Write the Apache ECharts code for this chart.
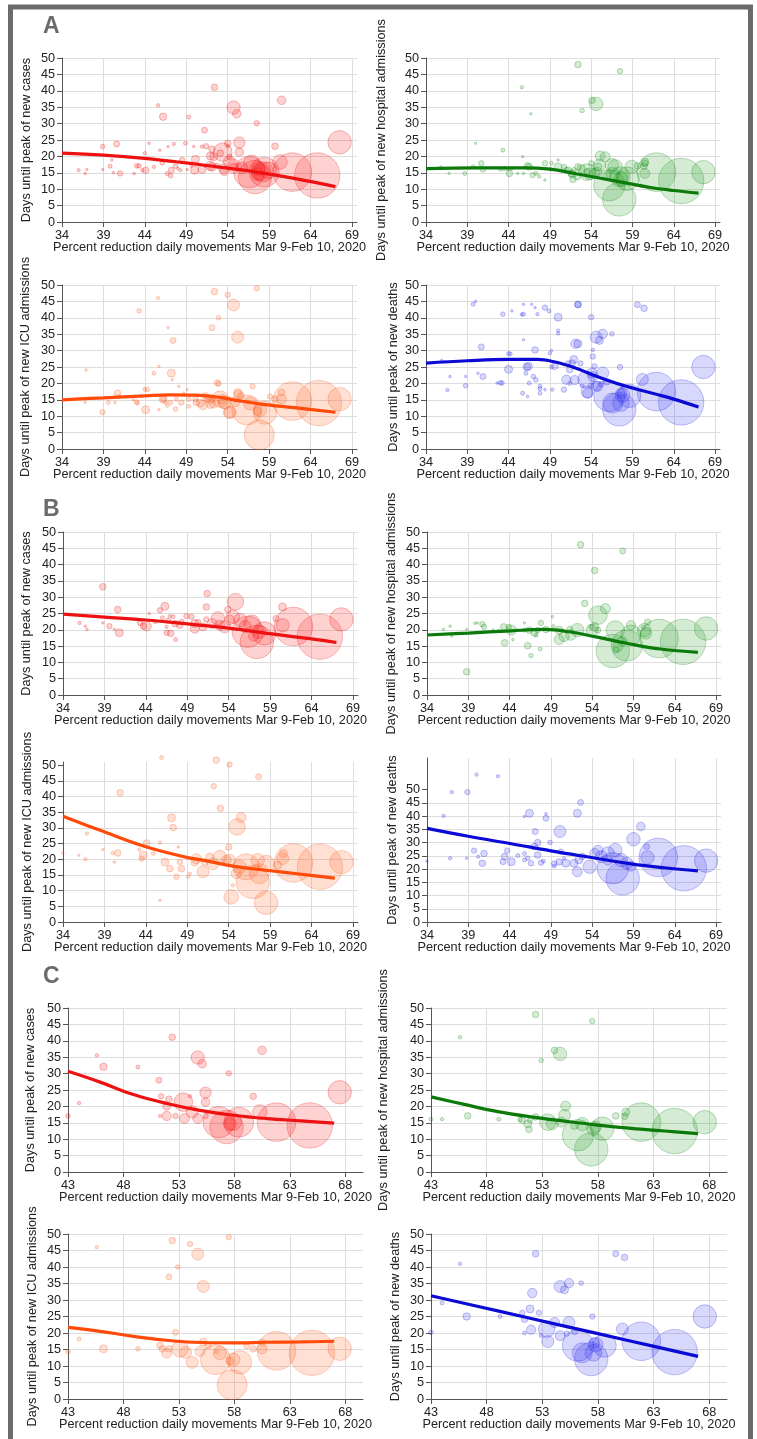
<!DOCTYPE html>
<html>
<head>
<meta charset="utf-8">
<script src="https://cdn.jsdelivr.net/npm/echarts@6/dist/echarts.min.js"></script>
<style>
html, body { margin: 0; padding: 0; background: #fff; }
#chart { width: 757px; height: 1439px; }
</style>
</head>
<body>
<div id="chart"></div>
<script>
// Days until peak vs. percent reduction of daily movements, 3 sections x 4 outcomes.
// Points are [movement reduction %, days until peak, population (thousands)].

var X_NAME = 'Percent reduction daily movements Mar 9-Feb 10, 2020';
var X_TICKS_AB = [34, 39, 44, 49, 54, 59, 64, 69];
var X_TICKS_C = [43, 48, 53, 58, 63, 68];
var Y_TICKS = [0, 5, 10, 15, 20, 25, 30, 35, 40, 45, 50];

// --- regions shown in section C (also part of section A) ---
var CASES_C = [[64.8,14.2,8245],[61.8,15.2,5960],[67.5,24.3,2190],[57.3,13.7,4462],[56.6,15.2,3944],[58.4,15.2,3600],
  [57.9,15.2,1102],[57.6,14.6,640],[60.3,18.3,853],[60.5,37.1,296],[59.7,23.1,174],[57.5,30.1,117],[54.7,34.9,718],
  [55.1,33,296],[55.4,24.2,520],[55.4,21.3,296],[55.4,17.1,117],[54.7,16.3,400],[54.2,18.3,576],[53.5,16.3,400],
  [53.4,21.3,1384],[54,23.1,46],[52.4,41.1,174],[52.1,22.2,174],[51.9,20.1,256],[51.9,17.1,353],[51.4,23.1,117],
  [51.2,28,144],[51.3,17.1,46],[52.7,17.1,117],[49.3,32,64],[46.2,32.1,219],[45.6,35.6,46],[44,21,46],[43,17.1,85]];
var HOSP_C = [[64.9,12.5,8245],[61.9,15.2,5960],[67.6,15.2,2190],[57.4,6.9,4462],[56.2,11.2,3944],[58.4,13.2,2190],
  [57.6,13.2,718],[57.8,13.8,520],[56.6,14.6,718],[55.1,20.1,400],[55,17.3,576],[54.7,15.2,400],[54.6,36,718],
  [54.1,37.1,174],[52.9,34,85],[52.4,48,174],[57.5,46,117],[45.6,41.1,46],[53.5,15.2,1102],[53.9,14.7,576],
  [51.8,13,174],[51.7,14.7,256],[51.2,15.8,174],[51,16,85],[51.9,15.8,117],[52.4,16.8,174],[60.4,17,174],
  [59.6,17.1,174],[60.5,18.3,256],[49.1,16.1,64],[46.3,17.1,174],[44,16.1,46],[43,16.1,64],[55.9,14.2,256]];
var ICU_C = [[65,14,8245],[61.8,14.6,5960],[67.5,15.2,2190],[57.8,4.3,3600],[56.3,11.9,3600],[58.5,11.1,2190],
  [57.9,11.9,718],[56.7,13.9,718],[57.6,11.5,256],[54.9,14.4,400],[54.2,11.1,576],[53.6,14.1,576],[53.1,15.2,1102],
  [51.9,13.9,400],[51.3,16.2,174],[51.5,15.2,174],[52.1,15.2,174],[55.2,34.1,576],[54.7,43.9,576],[54,47,117],
  [52.4,48,174],[52.9,40,85],[52.1,37,144],[52.7,20.2,144],[57.5,49,117],[45.6,46,46],[46.2,15.2,256],[49.3,15.2,85],
  [44,18.2,64],[43,14.3,85],[55.2,17.2,256],[55.6,16.2,174],[56.4,14.3,64],[59.7,15.2,174],[60.5,15.2,400],
  [60.5,17.2,174],[59.1,16,117]];
var DEATHS_C = [[64.9,14.2,8245],[61.9,17.5,5960],[67.6,25,2190],[57.4,12.1,4462],[56.2,16.2,3944],[58.6,16.2,2190],
  [57.8,16.5,853],[57.7,17,400],[57.6,14,1102],[56.6,14,1600],[55.4,23.2,576],[55.4,35.1,353],[54.6,34.1,576],
  [55,33.1,256],[56.5,35.1,85],[57.5,25,117],[52.4,44,174],[59.6,44,144],[60.4,42.9,174],[52.1,32.1,353],
  [51.9,27.3,256],[52.7,26.1,117],[51.2,26.1,117],[51.4,24.2,174],[52,21,353],[51.4,20,64],[52.9,19.2,64],
  [53.4,21.2,1102],[53.5,17.4,576],[54.1,23.2,400],[54.6,19.2,400],[55.2,19.8,117],[60.2,21.2,576],[44,29.1,64],
  [45.6,41,46],[46.2,25,219],[49.2,25,64],[43,20.2,85],[55.9,20.5,174]];

// --- remaining regions of section A ---
var CASES_A_EXTRA = [[36,15.8,46],[36.8,14.8,27],[37,16,16],[38.9,23,85],[38.9,16,8],[39.8,17,64],[40,18.9,16],
  [40.2,15,27],[40.6,23.8,144],[41,14.8,117],[42.7,14.8,27],[43.3,17.1,85],[43.7,15.8,46],[44.1,15.8,174],[44.5,24,8],
  [45.1,16.8,46],[45.8,21.9,16],[46.1,18,85],[46.7,14.8,64],[46.8,23,16],[47.1,14.1,85],[47.2,15.8,144],[47.5,23.8,46],
  [47.7,17,85],[48,16.3,27],[48.3,15.8,46],[48.5,18.9,117],[48.9,24,64],[49.1,16,16],[49.6,17,27],[50,15.8,256],
  [50.1,19.1,256],[49.9,23,27],[50.9,23,46],[50.9,16,256],[52.1,16.8,296],[52.3,19.9,256],[53.1,21,174],
  [53.6,15.6,353],[54,24,174],[54.2,19.9,117],[54.7,17.7,400],[55.7,16.5,576],[56.9,17.9,1102],[58.3,15.3,1600],
  [58.9,15.8,1102],[57.7,16.3,718]];
var HOSP_A_EXTRA = [[35.8,16.8,27],[36.8,14.8,27],[38.7,14.8,64],[39.7,16.8,64],[40,24,16],[40.7,17.9,117],
  [40.9,16,117],[43.3,21.9,64],[43.5,16.3,85],[44.1,14.8,174],[44.4,16.3,46],[45.1,14.8,16],[45.7,19.9,8],
  [45.8,14.8,27],[46.5,16.8,174],[46.7,33,16],[46.9,14.3,117],[47.3,14.8,64],[47.7,13.9,46],[48.4,17.9,117],
  [48.4,12.8,8],[49.2,17.9,64],[50,18.9,27],[50,16.8,256],[50.7,16.8,117],[51.6,14.8,174],[52.3,13.8,174],
  [52.8,16.3,256],[53.5,15.3,174],[54,17.9,117],[54.4,14.8,400],[54.8,16.8,256],[55.7,19.9,400],[56.5,17.3,718],
  [56.9,16.8,853],[57.5,13.8,1600],[60.5,14.8,400],[60.5,17.9,174],[58.9,16.8,718]];
var ICU_A_EXTRA = [[35.8,15.2,16],[36.8,14.2,27],[36.9,24.1,27],[38.9,11.2,117],[39.6,14.2,64],[40.4,14.2,27],
  [40.7,17,174],[40.9,16,64],[42.6,15,16],[43.1,14,64],[43.3,42.1,85],[43.6,16,27],[44.1,12,256],[44.3,18.1,85],
  [45.1,23.1,64],[45.7,25.2,16],[45.7,12,16],[46.2,15.2,117],[46.5,14.2,64],[46.7,13.2,46],[46.8,37,16],
  [47.2,23.1,256],[47.3,21.1,16],[47.4,33.1,144],[47.1,14.2,85],[47.7,12.2,85],[47.8,15.2,64],[48.1,19.1,16],
  [48.4,14.2,117],[48.7,17,27],[49.1,18.1,16],[49.3,13,64],[50.1,15.2,117],[50.2,14.2,174],[50.7,14,256],
  [51,13.4,353],[51.9,15.2,296],[52.3,14,400],[52.9,19.9,117],[53.3,15.2,353],[53.7,14.2,718],[54.3,11.2,576],
  [55.3,16.5,353],[57,19.1,117]];
var DEATHS_A_EXTRA = [[35.9,27,27],[36.6,18,46],[36.9,22.1,27],[38.8,22.1,16],[38.8,19.3,85],[39.7,44.1,64],
  [40,45,27],[40.3,23.1,27],[40.7,31.1,144],[40.9,22.1,144],[42.6,20.1,27],[43.2,20.1,85],[43.3,41.1,85],
  [44,24.3,256],[44.2,29,64],[44.4,42.1,8],[45.7,17,64],[45.8,33.3,16],[45.8,41.1,64],[45.8,44.1,16],[46.1,23.1,64],
  [46.3,16,27],[46.4,25.2,256],[46.8,44.1,16],[47.2,43.1,16],[47.2,30.2,174],[47,22.1,85],[47.3,21.1,85],
  [47.5,41.1,46],[46.5,20.1,64],[47.8,19.1,64],[47.8,18.4,64],[47.8,17,64],[48.4,18.1,27],[48.4,43.1,117],
  [48.9,42.1,64],[49,29.2,46],[49.2,30,16],[49.3,18.1,46],[49.6,25.2,174],[50,40.2,256],[50,36.1,46],[50,35.2,46],
  [50.7,18.1,117],[51,21.1,353],[51.7,26.2,174],[52.4,44.1,174],[52.4,32.1,256],[53.6,17,400],[54,19.3,117],
  [54,40.2,117],[54.2,30.2,46],[54.2,28.2,117],[54.2,22.1,400],[54.8,19.1,400],[54.4,25.2,117]];

// --- section B ---
var CASES_B = [[65,17.9,8245],[61.8,21,5960],[67.6,23.2,2190],[57.4,16.3,4462],[56.3,19.4,3944],[58.3,18.9,2190],
  [54.8,28.6,1102],[54.5,24,718],[55.4,23,718],[56.8,22,1102],[57.7,19.4,718],[60.5,27,256],[59.7,23.5,144],
  [60.5,21.4,718],[51.4,31.1,174],[51.3,27,174],[38.8,33.2,174],[40.6,26.2,174],[40.8,19.1,256],[39.6,21.1,117],
  [40.2,20.1,27],[36.9,20.1,27],[36.7,21.1,27],[36,22.1,46],[38.8,22.1,16],[43.3,22.1,117],[43.7,21.1,174],
  [44.1,21.1,353],[44.4,25,16],[45.1,22.4,64],[45.7,26,117],[46,23.7,64],[46.3,27.2,256],[46.5,20.9,46],
  [46.7,22.7,117],[46.9,24.2,46],[47.3,24,64],[47,18.9,174],[46.5,19.1,117],[47.6,17,64],[47.5,21.9,174],
  [48.1,21.4,174],[48.3,22.4,117],[48.9,24.2,117],[49.5,24,117],[49.9,21.9,256],[49.9,20.4,353],[50.3,22.4,117],
  [50.9,20.9,256],[51.3,23.2,117],[52,21.9,400],[52.7,23.5,718],[52.9,21.4,400],[53.5,20.9,576],[53.9,26.2,174],
  [54.1,23,400],[56,21,576],[57,18,400]];
var HOSP_B = [[65,16.3,8245],[62.1,17.3,5960],[67.8,20.4,2190],[56.5,13.5,4462],[58.2,15.2,3944],[56.8,19.9,1384],
  [58.7,18.4,1600],[57.1,14.8,400],[56.9,13.8,144],[57.7,16.4,353],[58.7,21.4,353],[60.3,19.9,718],[60.5,18.9,520],
  [60.7,22.4,144],[60.2,20.8,64],[54.7,24.5,1384],[55.6,26.5,400],[52.6,46.1,174],[57.7,44.2,144],[54.3,38.2,174],
  [53.1,28.1,174],[54,19.9,576],[54.3,20.9,296],[54.7,19.9,144],[53.9,20.9,117],[52.2,19.9,718],[51.4,18.4,449],
  [50.6,17.9,400],[50,17,400],[50,19.9,256],[49.3,21.1,46],[49.2,24,27],[48.4,20.1,174],[47.8,22.1,117],
  [47.4,19.9,117],[47,19,174],[47.2,18.3,64],[47.7,14.1,64],[46.6,12.1,85],[46.2,15.1,174],[45.8,19.9,64],
  [45.8,22.1,27],[46.4,19.9,174],[44.4,17,27],[44.2,19.9,400],[43.4,16,174],[43.3,20.9,174],[43.9,20.9,117],
  [42.7,19.9,16],[40.9,20.9,117],[40.7,21.7,117],[40.1,22.1,27],[39.8,22,27],[38.8,20.1,16],[38.8,7.1,174],
  [37,18.1,27],[36.8,21.1,27],[36,20.1,27],[42,19.9,27],[44.9,19.9,27],[51.3,20.3,117]];
var ICU_B = [[65,17.6,8245],[61.8,18.8,5960],[67.6,19.1,2190],[58.5,6.1,2190],[56.9,12.8,4462],[56.1,17.6,2704],
  [57.7,15.4,1600],[54.3,8,853],[55,30.3,1102],[55.5,33.3,400],[54.1,50.2,117],[52.5,51.6,174],[52.2,43.3,117],
  [53,36.2,174],[57.6,46.3,144],[45.9,52.4,64],[40.9,41.2,174],[47.1,33.2,256],[47.3,30.1,174],[46.3,19.1,256],
  [45.7,25.3,46],[45.7,6.9,16],[44.9,21.8,64],[43.5,20.2,117],[43.7,21.3,256],[43.2,23.1,46],[40.6,22,174],
  [40,22,46],[40.2,19.1,27],[38.8,23.1,16],[36.9,28.2,46],[36.7,20,46],[35.9,21.3,27],[34,22,16],[44.1,25.2,174],
  [46.9,17,174],[47.7,14.4,117],[48.3,17,174],[48.1,19.1,117],[47.9,23.9,27],[49.1,14.4,46],[49.3,15.4,46],
  [49.9,19.1,256],[50.1,20.2,400],[50.9,16,576],[51.1,19.1,174],[51.7,20.7,256],[52.1,18.6,576],[52.9,20.7,718],
  [53.7,19.7,400],[54,23.9,174],[54.1,19.7,576],[54.5,11.7,46],[54.9,15.4,400],[55.3,17.6,718],[60.5,20.2,576],
  [59.9,18.1,256],[60.6,21.8,256],[58.5,18.6,1102],[57.5,19.7,718]];
var DEATHS_B = [[65.1,20.3,8245],[62,24.4,5960],[67.8,23.2,2190],[56.5,20.3,3944],[57.7,16.5,4462],[59,31.3,718],
  [59.9,36.1,296],[60.6,28.5,144],[60.7,24.4,718],[50.1,34.2,576],[52.2,41.1,256],[52.6,45.2,144],[48.4,39.2,144],
  [48.4,40.9,27],[48.9,30.1,85],[46.4,41.1,256],[45.8,39.9,16],[47.1,34.2,144],[47.4,30,174],[47,28.5,174],
  [47.4,25.3,174],[46.6,22.2,117],[46.2,24.1,85],[45.8,25.9,64],[45.8,23.5,64],[45,25.1,64],[44.2,22.8,256],
  [43.7,27,117],[43.4,24.7,174],[43.2,22.8,144],[40.9,25.9,174],[40.7,22.2,174],[39.7,27,117],[40.2,24.7,46],
  [38.8,24.1,16],[36.8,24.1,46],[38.9,49.1,117],[37,49.1,46],[36,40.1,46],[40,55.7,46],[42.6,55.1,46],[34,23,16],
  [47.8,22.4,117],[48.1,23,64],[49.4,21.1,64],[49.4,22.1,117],[50,22.7,174],[50.8,22.2,256],[51.8,22.2,256],
  [52.2,19,400],[52.4,23.5,256],[52.8,24.8,174],[53.7,20.9,718],[54.3,25.9,400],[54.7,27.1,400],[55.1,24.7,576],
  [55.9,25.9,718],[56.8,27.2,718],[55.9,23.4,400],[57.5,23.4,718],[58.2,22.2,576],[58.7,21.1,400],[50.2,26.6,117],
  [50.6,24,46]];

// --- fitted curves ---
var FIT_CASES_A = [[34,21.0],[39,20.4],[44,19.4],[49,18.0],[54,16.4],[57.5,15.2],[62,13.3],[67,10.8]];
var FIT_HOSP_A = [[34,16.3],[40,16.5],[46,16.5],[49,16.1],[52,14.8],[55,13.4],[58,12.0],[61,10.6],[64,9.6],[67,8.8]];
var FIT_ICU_A = [[34,15],[39,15.6],[44,16.2],[47,16.5],[50,16.4],[52.3,16],[54.7,15],[58,13.7],[62,12.6],[67,11.2]];
var FIT_DEATHS_A = [[34,26.2],[39,26.9],[44,27.3],[47.5,27.3],[49.5,26.6],[52,24.8],[54,22.8],[56.5,20.5],[59,18.6],[62,16.6],[64,15.2],[67,12.8]];
var FIT_CASES_B = [[34,24.8],[39,23.9],[44,23.0],[49,21.8],[54,20.5],[59,18.8],[64,17.2],[67,16.1]];
var FIT_HOSP_B = [[34,18.4],[39,19.0],[44.2,19.7],[48.2,20.1],[51.2,19.4],[54.3,17.9],[58.3,15.8],[62.3,14.1],[66.8,13.1]];
var FIT_ICU_B = [[34,33.7],[38.4,29.3],[43.7,24.2],[48.9,20.6],[51.3,19.5],[54.5,17.8],[58.5,16.5],[62.5,15.3],[66.8,14]];
var FIT_DEATHS_B = [[34,35.4],[39,32.4],[44.2,29.6],[49,26.9],[53.9,24.4],[58.7,22.0],[62.7,20.5],[66.8,19.3]];
var FIT_CASES_C = [[43,30.7],[45.9,27.4],[48.9,23.6],[51.9,20.9],[54.9,18.8],[57.9,17.3],[60.9,16.3],[64,15.6],[67,14.9]];
var FIT_HOSP_C = [[43,22.9],[46,20.6],[49,18.4],[52,16.8],[55,15.5],[58,14.3],[61,13.3],[64,12.5],[67,11.7]];
var FIT_ICU_C = [[43,21.7],[45.9,20.5],[48.9,19],[51.9,17.8],[54.3,17.2],[57.9,17],[60.9,17.2],[64,17.3],[67,17.5]];
var FIT_DEATHS_C = [[43,31.3],[49,26.7],[55,22.1],[61,17.5],[67,12.9]];

var FONT = "'Liberation Sans', Arial, Helvetica, sans-serif";
var FS = 12.7;

var STYLES = {
    red:    { fill: 'rgba(255,30,30,0.25)', border: 'rgba(225,0,0,0.4)', line: '#ee1111' },
    green:  { fill: 'rgba(40,160,40,0.25)', border: 'rgba(0,120,0,0.4)', line: '#0b7a0b' },
    orange: { fill: 'rgba(255,110,50,0.27)', border: 'rgba(240,80,20,0.4)', line: '#ff4a0a' },
    blue:   { fill: 'rgba(50,50,245,0.24)', border: 'rgba(20,20,220,0.4)', line: '#0a0ad4' }
};

var NAMES = {
    cases: 'Days until peak of new cases',
    hosp: 'Days until peak of new hospital admissions',
    icu: 'Days until peak of new ICU admissions',
    deaths: 'Days until peak of new deaths'
};

// layout of the 12 panels (pixels)
var PANELS = [
    { left: 62,  top: 58,   w: 295, h: 164, x: [34, 69.6], xt: X_TICKS_AB, ymax: 50, c: 'red',    n: 'cases',  gap: 29, pts: CASES_C.concat(CASES_A_EXTRA),   fit: FIT_CASES_A },
    { left: 426, top: 58,   w: 294, h: 164, x: [34, 69.6], xt: X_TICKS_AB, ymax: 50, c: 'green',  n: 'hosp',   gap: 38, pts: HOSP_C.concat(HOSP_A_EXTRA),     fit: FIT_HOSP_A },
    { left: 62,  top: 285,  w: 295, h: 164, x: [34, 69.6], xt: X_TICKS_AB, ymax: 50, c: 'orange', n: 'icu',    gap: 30, pts: ICU_C.concat(ICU_A_EXTRA),       fit: FIT_ICU_A },
    { left: 426, top: 285,  w: 294, h: 164, x: [34, 69.6], xt: X_TICKS_AB, ymax: 50, c: 'blue',   n: 'deaths', gap: 26, pts: DEATHS_C.concat(DEATHS_A_EXTRA), fit: FIT_DEATHS_A },
    { left: 63,  top: 532,  w: 295, h: 163, x: [34, 69.6], xt: X_TICKS_AB, ymax: 50, c: 'red',    n: 'cases',  gap: 30, pts: CASES_B,  fit: FIT_CASES_B },
    { left: 427, top: 532,  w: 294, h: 163, x: [34, 69.6], xt: X_TICKS_AB, ymax: 50, c: 'green',  n: 'hosp',   gap: 29, pts: HOSP_B,   fit: FIT_HOSP_B },
    { left: 63,  top: 762,  w: 295, h: 160, x: [34, 69.6], xt: X_TICKS_AB, ymax: 51, c: 'orange', n: 'icu',    gap: 29, pts: ICU_B,    fit: FIT_ICU_B },
    { left: 427, top: 758,  w: 294, h: 164, x: [34, 69.6], xt: X_TICKS_AB, ymax: 62, c: 'blue',   n: 'deaths', gap: 28, pts: DEATHS_B, fit: FIT_DEATHS_B },
    { left: 68,  top: 1008, w: 295, h: 164, x: [43, 69.6], xt: X_TICKS_C,  ymax: 50, c: 'red',    n: 'cases',  gap: 31, pts: CASES_C,  fit: FIT_CASES_C },
    { left: 431, top: 1008, w: 296, h: 164, x: [43, 69.6], xt: X_TICKS_C,  ymax: 50, c: 'green',  n: 'hosp',   gap: 41, pts: HOSP_C,   fit: FIT_HOSP_C },
    { left: 68,  top: 1234, w: 295, h: 165, x: [43, 69.6], xt: X_TICKS_C,  ymax: 50, c: 'orange', n: 'icu',    gap: 29, pts: ICU_C,    fit: FIT_ICU_C },
    { left: 431, top: 1234, w: 296, h: 165, x: [43, 69.6], xt: X_TICKS_C,  ymax: 50, c: 'blue',   n: 'deaths', gap: 29, pts: DEATHS_C, fit: FIT_DEATHS_C }
];

function tickFormatter(ticks) {
    return function (v) { return ticks.indexOf(v) >= 0 ? String(v) : ''; };
}

var axisLineStyle = { color: '#555', width: 1 };
var nameStyle = { fontFamily: FONT, fontSize: FS, color: '#222' };

var option = {
    animation: false,
    backgroundColor: '#fff',
    grid: [], xAxis: [], yAxis: [], series: [],
    graphic: [
        { type: 'rect', silent: true, shape: { x: 10.5, y: 7, width: 740, height: 1460 },
          style: { fill: 'none', stroke: '#6b6b6b', lineWidth: 5 } },
        { type: 'text', x: 43, y: 27, style: { text: 'A', font: 'bold 23px ' + FONT, fill: '#6b6b6b', verticalAlign: 'middle' } },
        { type: 'text', x: 43, y: 510, style: { text: 'B', font: 'bold 23px ' + FONT, fill: '#6b6b6b', verticalAlign: 'middle' } },
        { type: 'text', x: 43, y: 977, style: { text: 'C', font: 'bold 23px ' + FONT, fill: '#6b6b6b', verticalAlign: 'middle' } }
    ]
};

for (var i = 0; i < PANELS.length; i++) {
    var p = PANELS[i];
    var st = STYLES[p.c];
    option.grid.push({ left: p.left, top: p.top, width: p.w, height: p.h, containLabel: false, outerBoundsMode: 'none' });
    option.xAxis.push({
        gridIndex: i, type: 'value', min: p.x[0], max: p.x[1], interval: 5,
        name: X_NAME, nameLocation: 'middle', nameGap: 19, nameMoveOverlap: false, nameTextStyle: nameStyle,
        axisLine: { show: true, onZero: false, lineStyle: axisLineStyle },
        axisTick: { show: true, length: 5, customValues: p.xt, lineStyle: axisLineStyle },
        axisLabel: { customValues: p.xt, fontFamily: FONT, fontSize: FS, color: '#222', margin: 7,
                     formatter: tickFormatter(p.xt), showMaxLabel: true, showMinLabel: true },
        splitLine: { show: true, lineStyle: { color: '#dddddd', width: 1 } }
    });
    option.yAxis.push({
        gridIndex: i, type: 'value', min: 0, max: p.ymax, interval: 5,
        name: NAMES[p.n], nameLocation: 'middle', nameGap: p.gap, nameMoveOverlap: false, nameTextStyle: nameStyle,
        axisLine: { show: true, onZero: false, lineStyle: axisLineStyle },
        axisTick: { show: true, length: 5, customValues: Y_TICKS, lineStyle: axisLineStyle },
        axisLabel: { customValues: Y_TICKS, fontFamily: FONT, fontSize: FS, color: '#222', margin: 7,
                     formatter: tickFormatter(Y_TICKS) },
        splitLine: { show: true, showMaxLine: p.ymax === 50, lineStyle: { color: '#dddddd', width: 1 } }
    });
    option.series.push({
        type: 'scatter', xAxisIndex: i, yAxisIndex: i, data: p.pts, clip: false, silent: true,
        symbolSize: function (v) { return Math.max(2.5, Math.sqrt(v[2]) * 0.5); },
        itemStyle: { color: st.fill, borderColor: st.border, borderWidth: 0.8 }
    });
    option.series.push({
        type: 'line', xAxisIndex: i, yAxisIndex: i, data: p.fit, smooth: 0.4, silent: true,
        showSymbol: false, symbol: 'none', z: 5,
        lineStyle: { color: st.line, width: 3.2 }
    });
}

var chart = echarts.init(document.getElementById('chart'), null, { renderer: 'canvas' });
chart.setOption(option);
</script>
</body>
</html>
